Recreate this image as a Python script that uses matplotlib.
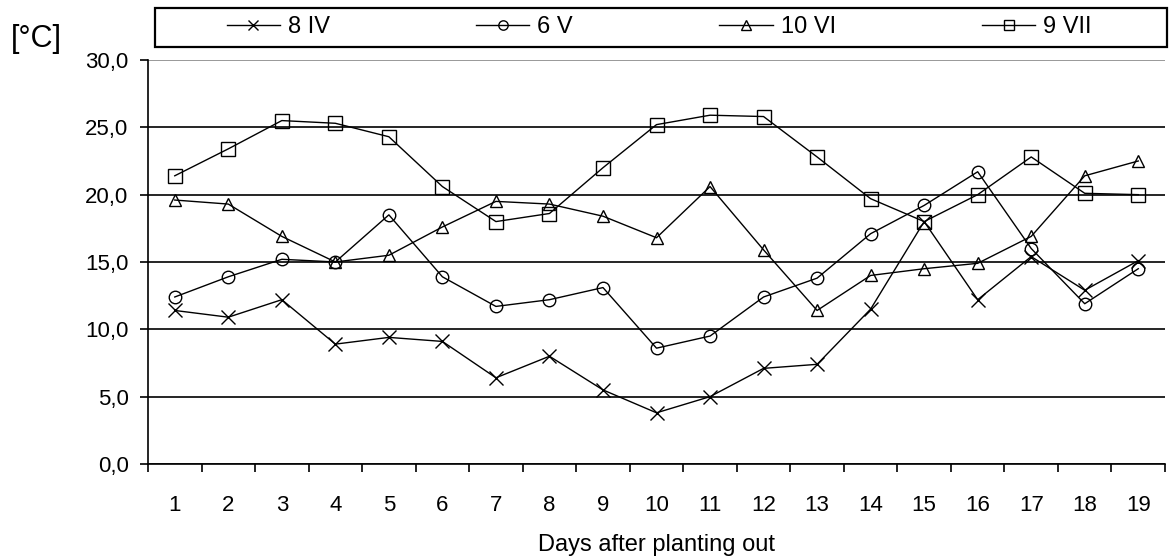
import matplotlib
matplotlib.use("Agg")
import matplotlib.pyplot as plt
from matplotlib.patches import Rectangle
from matplotlib.ticker import FixedLocator, FuncFormatter

plt.rcParams["font.family"] = ["Liberation Sans", "DejaVu Sans"]

days = list(range(1, 20))
apr_8 = [11.4, 10.9, 12.2, 8.9, 9.4, 9.1, 6.4, 8.0, 5.5, 3.8, 5.0, 7.1, 7.4,
         11.5, 18.0, 12.2, 15.4, 12.9, 15.1]
may_6 = [12.4, 13.9, 15.2, 15.0, 18.5, 13.9, 11.7, 12.2, 13.1, 8.6, 9.5, 12.4, 13.8,
         17.1, 19.2, 21.7, 16.0, 11.9, 14.5]
jun_10 = [19.6, 19.3, 16.9, 15.0, 15.5, 17.6, 19.5, 19.3, 18.4, 16.8, 20.6, 15.9, 11.4,
          14.0, 14.5, 14.9, 16.9, 21.4, 22.5]
jul_9 = [21.4, 23.4, 25.5, 25.3, 24.3, 20.6, 18.0, 18.6, 22.0, 25.2, 25.9, 25.8, 22.8,
         19.7, 18.0, 20.0, 22.8, 20.1, 20.0]
series_labels = ["8 IV", "6 V", "10 VI", "9 VII"]
y_ticks = [0, 5, 10, 15, 20, 25, 30]

fig = plt.figure(figsize=(11.69, 5.58), dpi=100)
ax = fig.add_axes([0.1266, 0.1685, 0.870, 0.724])

styles = [("x", 10), ("o", 9), ("^", 9), ("s", 10)]
for vals, label, (m, ms) in zip([apr_8, may_6, jun_10, jul_9], series_labels, styles):
    ax.plot(days, vals, color="black", linewidth=1.0, marker=m, markersize=ms,
            markerfacecolor="none", markeredgecolor="black", markeredgewidth=1.0,
            label=label)

ax.set_xlim(0.5, 19.5)
ax.set_ylim(0, 30)

# ticks sit between the day categories, labels in the middle
ax.xaxis.set_major_locator(FixedLocator([d + 0.5 for d in range(0, 20)]))
ax.xaxis.set_major_formatter(FuncFormatter(lambda v, p: ""))
ax.xaxis.set_minor_locator(FixedLocator(days))
ax.xaxis.set_minor_formatter(FuncFormatter(lambda v, p: f"{int(round(v))}"))
ax.tick_params(axis="x", which="major", length=6, width=1.2, direction="out")
ax.tick_params(axis="x", which="minor", length=0, pad=22, labelsize=16)

ax.set_yticks(y_ticks)
ax.yaxis.set_major_formatter(FuncFormatter(lambda v, p: f"{v:.1f}".replace(".", ",")))
ax.tick_params(axis="y", length=6, width=1.2, direction="out", labelsize=16, pad=8)

ax.grid(axis="y", color="black", linewidth=1.2)
ax.yaxis.get_gridlines()[-1].set_color("#888888")
ax.set_axisbelow(True)

for side in ["top", "right"]:
    ax.spines[side].set_visible(False)
ax.spines["left"].set_linewidth(1.2)
ax.spines["bottom"].set_linewidth(1.2)

ax.set_xlabel("Days after planting out", fontsize=17, labelpad=13)
fig.text(0.009, 0.931, "[°C]", fontsize=22, ha="left", va="center")

# legend box across the top, entries spread over it
fig.patches.append(Rectangle((0.1326, 0.9158), 0.8657, 0.0699, transform=fig.transFigure,
                             fill=False, edgecolor="black", linewidth=1.6))
leg = fig.legend(loc="center left", bbox_to_anchor=(0.194, 0.951), ncol=4,
                 frameon=False, fontsize=17, handlelength=2.25, handletextpad=0.34,
                 columnspacing=6.2, markerscale=0.75, borderpad=0, borderaxespad=0)

fig.savefig("out.png", dpi=100)
